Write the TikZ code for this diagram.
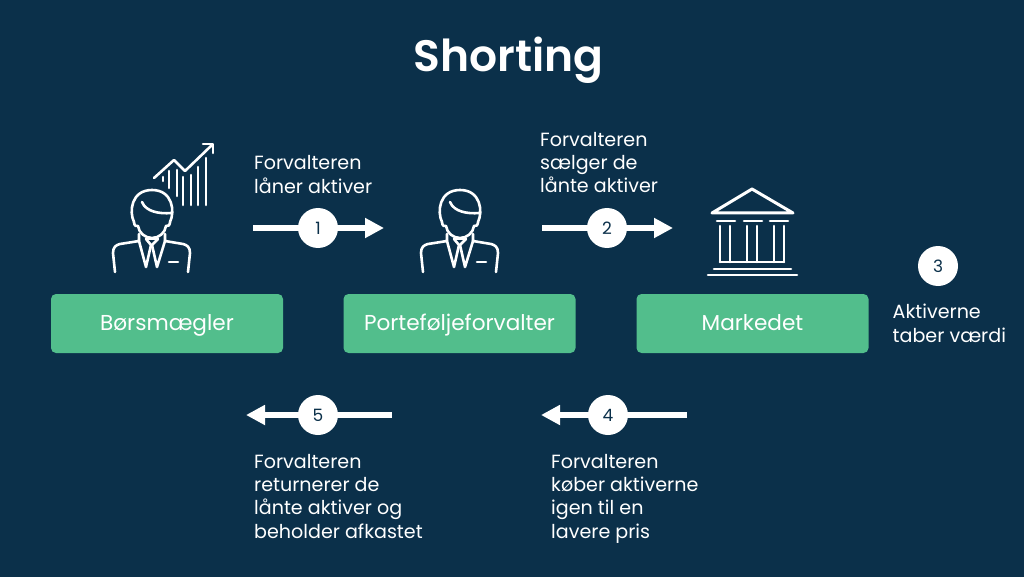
\documentclass[tikz,border=0pt]{standalone}
\usepackage{fontspec}
\setmainfont{Poppins}
\newfontfamily\titlefont{Poppins SemiBold}
\usetikzlibrary{arrows.meta}
\definecolor{bgc}{HTML}{0B304A}
\definecolor{boxc}{HTML}{52BE8C}
\tikzset{
 x=1pt,y=-1pt,
 boxn/.style={fill=boxc,rounded corners=5pt,minimum width=232pt,minimum height=59pt,inner sep=0pt,text=white,font=\fontsize{21.6}{26}\selectfont,text height=18pt,text depth=4pt,anchor=center},
 lbl/.style={text=white,anchor=north west,align=left,inner sep=0pt,font=\fontsize{19.1}{23.3}\selectfont},
 numc/.style={circle,fill=white,minimum size=40pt,inner sep=0pt,text=bgc,font=\fontsize{17}{20}\selectfont},
 flow/.style={white,line width=6pt,-{Triangle[length=19pt,width=19pt]},shorten >=0pt},
 ico/.style={white,line width=2.6pt,line cap=round,line join=round,fill=none},
 pics/person/.style={code={
  \draw[ico] (134,222) .. controls (129,212) and (131,190) .. (152,190) .. controls (173,190) and (175,212) .. (170,222);
  \draw[ico] (134,222) .. controls (134,226) and (137,227) .. (138,226) .. controls (139,233) and (145,238) .. (152,238) .. controls (159,238) and (165,233) .. (166,226) .. controls (168,227) and (170,225) .. (170,222);
  \draw[ico] (142,202) .. controls (146,212) and (160,214) .. (171,213);
  \draw[ico] (115,272) -- (113,253) .. controls (113,247) and (116,245) .. (120,244) -- (139,241) -- (139,234);
  \draw[ico] (188,272) -- (190,253) .. controls (190,247) and (187,245) .. (183,244) -- (165,241) -- (165,234);
  \draw[ico] (139,241) -- (146,267) -- (151,245) -- (146,239);
  \draw[ico] (165,241) -- (157,267) -- (152,245) -- (158,239);
  \draw[ico] (146,239) -- (158,239);
  \draw[ico] (169,262) -- (178,262);
 }}
}
\begin{document}
\begin{tikzpicture}
\useasboundingbox (0,0) rectangle (1024,577);
\fill[bgc] (0,0) rectangle (1024,577);
\node[text=white,font=\fontsize{44}{50}\selectfont\titlefont] (title) at (508.5,60) {Shorting};
% icons
\pic at (0,0) {person};
\pic at (308,0) {person};
\draw[ico] (154,178) -- (174,160) -- (185,171) -- (212,145);
\draw[ico] (203,144) -- (213,144) -- (213,153);
\foreach \x/\t/\b in {163/177/181,169/171/188,177/170/196,183/177/205,191/175/205,198/167/205,206/158/205}
  \draw[ico] (\x,\t) -- (\x,\b);
% bank
\draw[ico,line width=3pt] (752,189) -- (793,213) -- (712,213) -- cycle;
\foreach \a/\b in {717/735,744/762,770/788} \draw[ico] (\a,221) -- (\b,221);
\foreach \x in {720,730,747,757,774,784} \draw[ico] (\x,226) -- (\x,262);
\draw[ico] (720,262) -- (784,262);
\draw[ico] (714,269) -- (791,269);
\draw[ico] (708,275) -- (797,275);
% boxes
\node[boxn] (b1) at (167,323.5) {Børsmægler};
\node[boxn] (b2) at (459.5,323.5) {Porteføljeforvalter};
\node[boxn] (b3) at (752.5,323.5) {Markedet};
% arrows
\coordinate (s1) at (253,228); \coordinate (e1) at (384,228);
\coordinate (s2) at (542,228); \coordinate (e2) at (673,228);
\coordinate (s5) at (392,415); \coordinate (e5) at (246,415);
\coordinate (s4) at (687,415); \coordinate (e4) at (541,415);
\draw[flow] (s1) -- (e1);
\draw[flow] (s2) -- (e2);
\draw[flow] (s5) -- (e5);
\draw[flow] (s4) -- (e4);
\node[numc] (n1) at (318,228) {1};
\node[numc] (n2) at (607,228) {2};
\node[numc] (n3) at (938,266) {3};
\node[numc] (n4) at (608,415) {4};
\node[numc] (n5) at (318,415) {5};
% labels
\node[lbl] (t1) at (254,155.5) {Forvalteren\\låner aktiver};
\node[lbl] (t2) at (540,132) {Forvalteren\\sælger de\\lånte aktiver};
\node[lbl] (t3) at (892.5,304) {Aktiverne\\taber værdi};
\node[lbl] (t4) at (551,454) {Forvalteren\\køber aktiverne\\igen til en\\lavere pris};
\node[lbl] (t5) at (254,454) {Forvalteren\\returnerer de\\lånte aktiver og\\beholder afkastet};
\end{tikzpicture}
\end{document}
